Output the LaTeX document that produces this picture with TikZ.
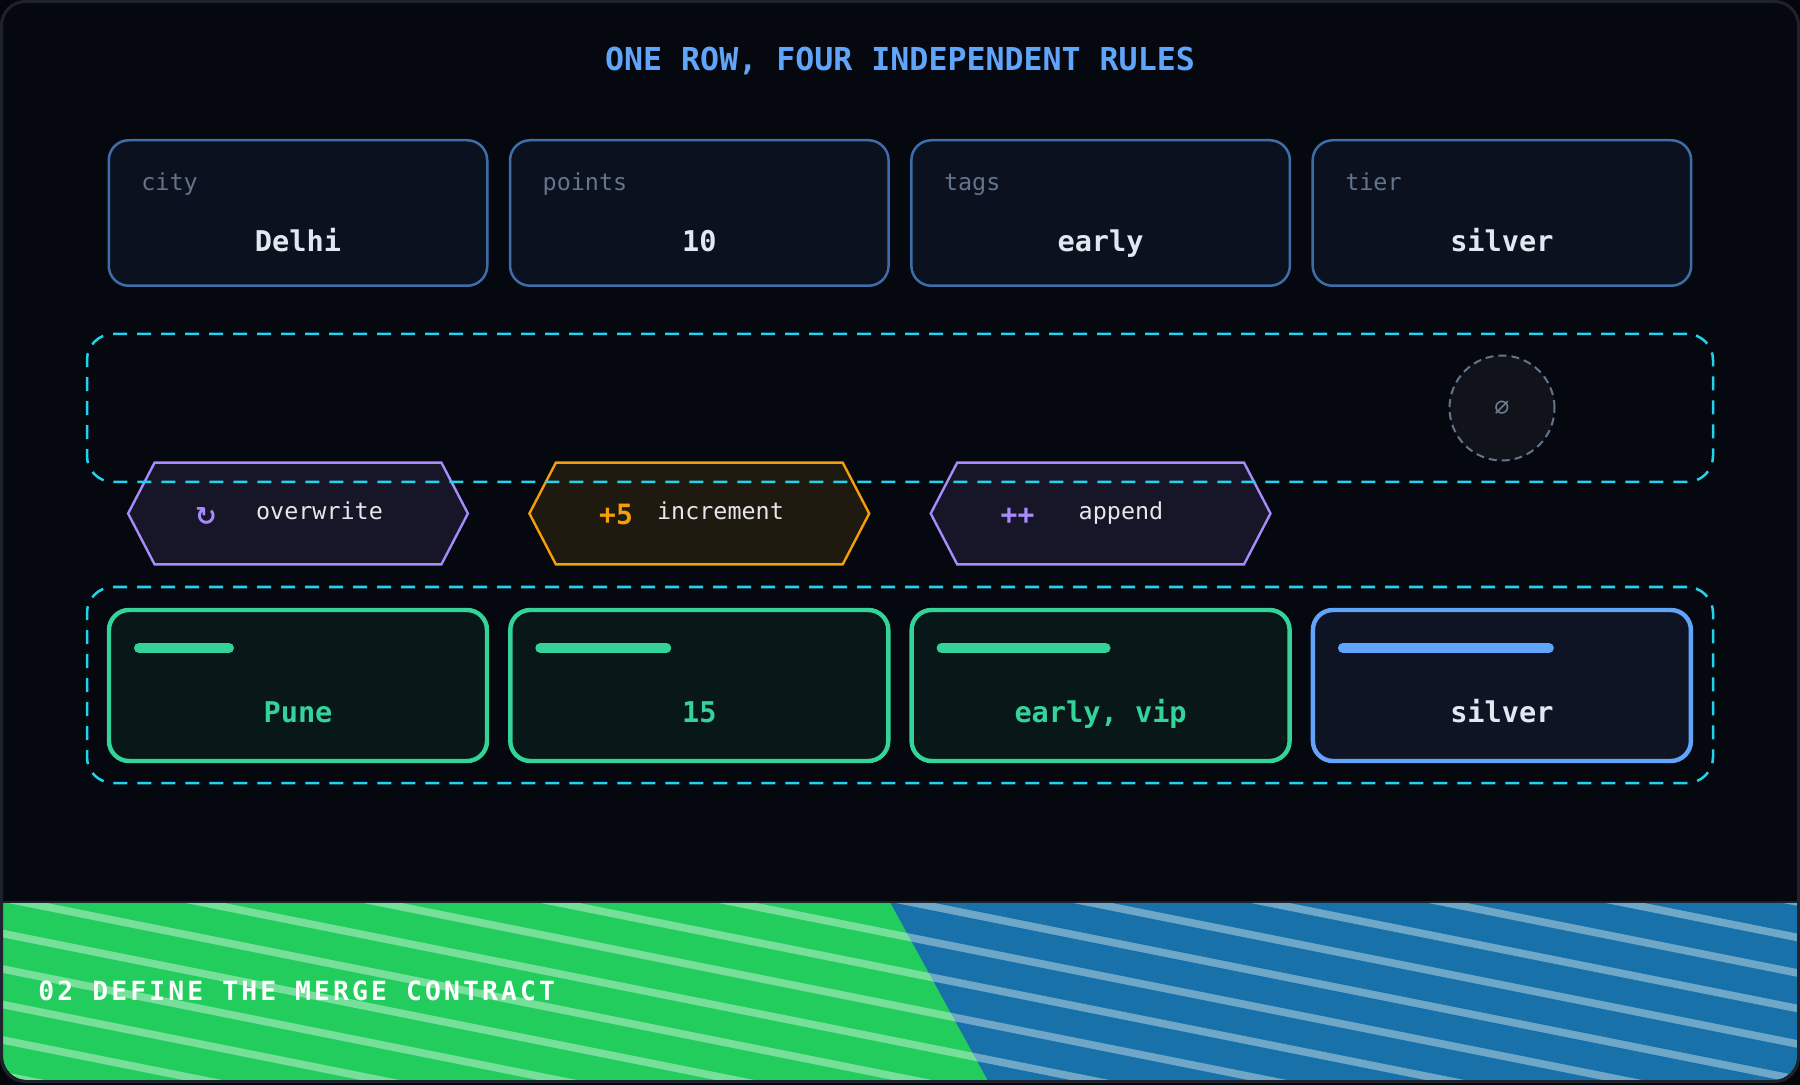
\documentclass[tikz,border=0pt]{standalone}
\usepackage{fontspec}
\setmainfont{DejaVu Sans Mono}
\newfontfamily\symfont{DejaVu Sans}
\usetikzlibrary{calc}
\definecolor{pagebg}{RGB}{4,6,12}
\definecolor{framebg}{RGB}{5,8,15}
\definecolor{framec}{RGB}{30,34,44}
\definecolor{titleblue}{RGB}{96,165,250}
\definecolor{topfill}{RGB}{11,17,30}
\definecolor{topborder}{RGB}{61,110,168}
\definecolor{labelgray}{RGB}{100,116,139}
\definecolor{valuewhite}{RGB}{226,232,240}
\definecolor{cyanc}{RGB}{34,211,238}
\definecolor{circgray}{RGB}{100,116,139}
\definecolor{circfill}{RGB}{16,19,26}
\definecolor{nulgray}{RGB}{110,125,145}
\definecolor{purplec}{RGB}{167,139,250}
\definecolor{purplefill}{RGB}{23,21,40}
\definecolor{orangec}{RGB}{245,158,11}
\definecolor{orangefill}{RGB}{31,26,16}
\definecolor{hextextc}{RGB}{229,231,235}
\definecolor{greenc}{RGB}{52,211,153}
\definecolor{greenfill}{RGB}{8,23,24}
\definecolor{bluec}{RGB}{96,165,250}
\definecolor{bluefill}{RGB}{14,20,36}
\definecolor{bgreen}{RGB}{34,205,94}
\definecolor{bblue}{RGB}{24,113,168}
\begin{document}
\begin{tikzpicture}[x=0.5pt,y=-0.5pt,
  topbox/.style={draw=topborder, fill=topfill, line width=1.25pt, rounded corners=10pt,
    minimum width=189.25pt, minimum height=72.75pt, inner sep=0pt},
  fieldlabel/.style={anchor=base west, text=labelgray, inner sep=0pt,
    font=\fontsize{11.7}{14}\selectfont},
  fieldvalue/.style={anchor=base, inner sep=0pt, font=\fontsize{14.3}{17}\selectfont\bfseries},
  region/.style={draw=cyanc, line width=1.25pt, dash pattern=on 7pt off 5pt,
    rounded corners=13pt, minimum width=813pt, inner sep=0pt},
  hexcore/.style={minimum width=143pt, minimum height=50.5pt, inner sep=0pt},
  hexline/.style={line width=1.2pt},
  hextext/.style={anchor=base, text=hextextc, inner sep=0pt, font=\fontsize{11.7}{14}\selectfont},
  hexicon/.style={anchor=base, inner sep=0pt, font=\fontsize{14}{16}\selectfont\bfseries},
  resbox/.style={line width=2.2pt, rounded corners=10pt, minimum width=189pt,
    minimum height=75.5pt, inner sep=0pt},
  bar/.style={line width=5pt, line cap=round},
  stripe/.style={white, opacity=0.38, line width=3.8pt}]
\useasboundingbox (0,0) rectangle (1800,1085);
\fill[pagebg] (0,0) rectangle (1800,1085);
\fill[framebg, rounded corners=12pt] (1.5,1.5) rectangle (1798.5,1081.5);
% banner
\begin{scope}
  \clip[rounded corners=12pt] (3,3) rectangle (1797,1080);
  \clip (0,902) rectangle (1800,1085);
  \fill[bgreen] (0,902) rectangle (1800,1085);
  \fill[bblue] (890,902) -- (1800,902) -- (1800,1085) -- (990.3,1085) -- cycle;
  \foreach \k in {14,...,31}
    \draw[stripe] (0,{10+\k*35.5}) -- (1800,{370+\k*35.5});
\end{scope}
\draw[framec, line width=1pt] (2,901.5) -- (1798,901.5);
\draw[framec, line width=1.5pt, rounded corners=12pt] (1.5,1.5) rectangle (1798.5,1081.5);
\node[anchor=base west, text=white, inner sep=0pt,
  font=\fontsize{13.2}{15}\selectfont\bfseries\addfontfeature{LetterSpace=11.8}]
  (banner) at (38,1000) {02 DEFINE THE MERGE CONTRACT};
% title
\node[anchor=base, text=titleblue, inner sep=0pt, font=\fontsize{15.8}{19}\selectfont\bfseries]
  (title) at (900,71) {ONE ROW, FOUR INDEPENDENT RULES};
% top boxes
\node[topbox] (t1) at (298,213) {};
\node[topbox] (t2) at (699.3,213) {};
\node[topbox] (t3) at (1100.6,213) {};
\node[topbox] (t4) at (1501.9,213) {};
\node[fieldlabel] (t1l) at (141,191) {city};
\node[fieldlabel] (t2l) at (542.3,191) {points};
\node[fieldlabel] (t3l) at (943.6,191) {tags};
\node[fieldlabel] (t4l) at (1344.9,191) {tier};
\node[fieldvalue, text=valuewhite] (t1v) at (298,252) {Delhi};
\node[fieldvalue, text=valuewhite] (t2v) at (699.3,252) {10};
\node[fieldvalue, text=valuewhite] (t3v) at (1100.6,252) {early};
\node[fieldvalue, text=valuewhite] (t4v) at (1501.9,252) {silver};
% hexagons
\node[hexcore] (h1) at (298,513.5) {};
\node[hexcore] (h2) at (699.3,513.5) {};
\node[hexcore] (h3) at (1100.6,513.5) {};
\draw[hexline, draw=purplec, fill=purplefill] (h1.north west) -- (h1.north east) -- ($(h1.east)+(26.5,0)$)
  -- (h1.south east) -- (h1.south west) -- ($(h1.west)+(-26.5,0)$) -- cycle;
\draw[hexline, draw=orangec, fill=orangefill] (h2.north west) -- (h2.north east) -- ($(h2.east)+(26.5,0)$)
  -- (h2.south east) -- (h2.south west) -- ($(h2.west)+(-26.5,0)$) -- cycle;
\draw[hexline, draw=purplec, fill=purplefill] (h3.north west) -- (h3.north east) -- ($(h3.east)+(26.5,0)$)
  -- (h3.south east) -- (h3.south west) -- ($(h3.west)+(-26.5,0)$) -- cycle;
\node[anchor=center, inner sep=0pt, text=purplec, font=\fontsize{13}{15}\selectfont\symfont\bfseries]
  (h1i) at (206,517) {↻};
\node[hextext] (h1t) at (319.5,520) {overwrite};
\node[hexicon, text=orangec] (h2i) at (616,524) {+5};
\node[hextext] (h2t) at (720.5,520) {increment};
\node[hexicon, text=purplec] (h3i) at (1017.5,524) {++};
\node[hextext] (h3t) at (1121,520) {append};
% region 1 and null circle
\node[region, minimum height=74pt] (r1) at (900,408) {};
\node[circle, draw=circgray, fill=circfill, line width=1pt, dash pattern=on 4pt off 2.5pt,
  minimum size=52.5pt, inner sep=0pt, text=nulgray, font=\fontsize{12.5}{14}\selectfont] (nul) at (1502,408) {∅};
% result boxes
\node[resbox, draw=greenc, fill=greenfill] (b1) at (298,685.5) {};
\node[resbox, draw=greenc, fill=greenfill] (b2) at (699.3,685.5) {};
\node[resbox, draw=greenc, fill=greenfill] (b3) at (1100.6,685.5) {};
\node[resbox, draw=bluec, fill=bluefill] (b4) at (1501.9,685.5) {};
\draw[bar, greenc] ($(b1.center)+(-159,-37.5)$) -- ++(90,0);
\draw[bar, greenc] ($(b2.center)+(-159,-37.5)$) -- ++(126,0);
\draw[bar, greenc] ($(b3.center)+(-159,-37.5)$) -- ++(164,0);
\draw[bar, bluec] ($(b4.center)+(-159,-37.5)$) -- ++(206,0);
\node[fieldvalue, text=greenc] (b1v) at (298,722) {Pune};
\node[fieldvalue, text=greenc] (b2v) at (699.3,722) {15};
\node[fieldvalue, text=greenc] (b3v) at (1100.6,722) {early, vip};
\node[fieldvalue, text=valuewhite] (b4v) at (1501.9,722) {silver};
\node[region, minimum height=98pt] (r2) at (900,685) {};
\end{tikzpicture}
\end{document}
